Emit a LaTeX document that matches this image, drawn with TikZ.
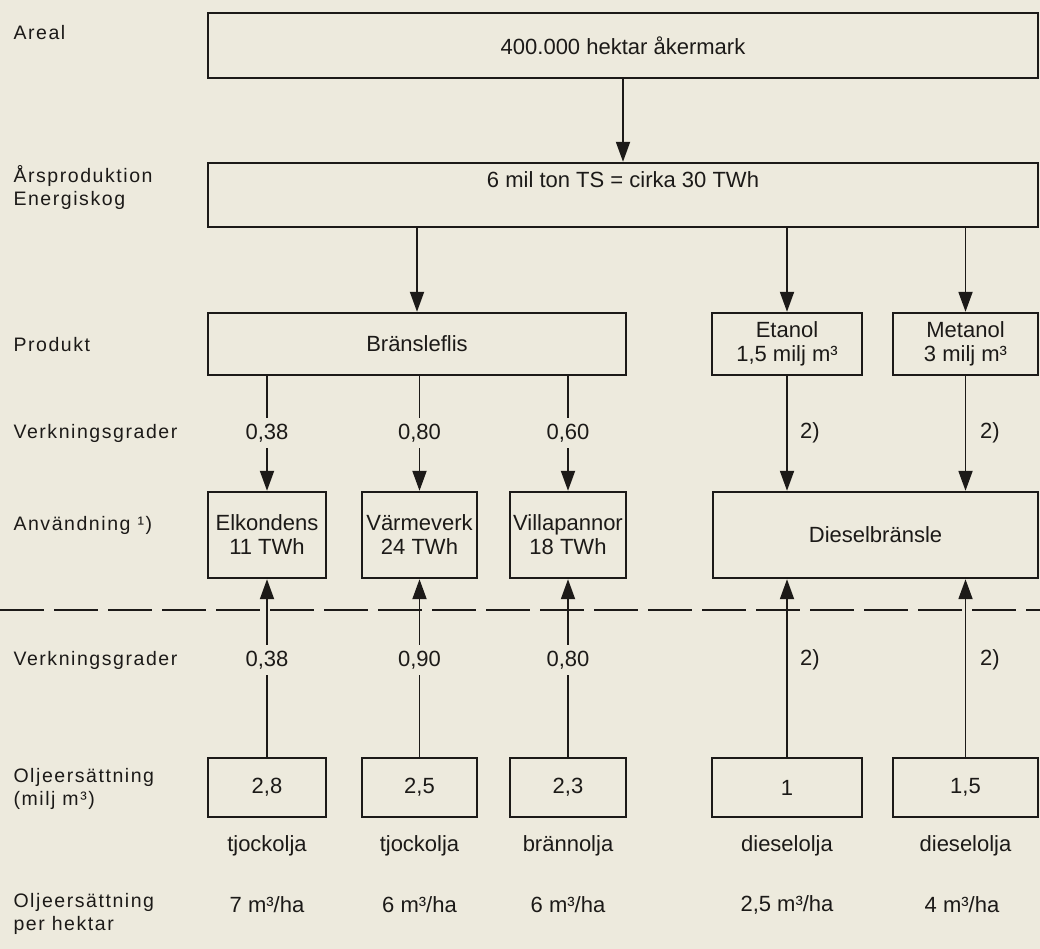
\documentclass[tikz,border=0pt]{standalone}
\usepackage{fontspec}
\setmainfont{Liberation Sans}
\newfontfamily\rowfont[LetterSpace=8]{Liberation Sans}
\usepackage{tikz}
\usetikzlibrary{positioning, arrows.meta}

\definecolor{paper}{RGB}{237,234,221}
\definecolor{ink}{RGB}{28,26,24}

\begin{document}
\begin{tikzpicture}[
  x=1pt, y=-1pt,
  font=\fontsize{22}{24}\selectfont,
  every node/.style={align=center, text=ink},
  box/.style={rectangle, draw=ink, line width=2.4pt, inner sep=1pt, minimum height=62pt},
  wide/.style={box, minimum width=830pt, minimum height=65pt},
  usebox/.style={box, minimum height=86pt},
  oilbox/.style={box, minimum height=59pt},
  rowlabel/.style={anchor=west, align=left, font=\rowfont\fontsize{19.5}{23}\selectfont},
  eff/.style={inner sep=6pt},
  note/.style={anchor=west, inner sep=0pt},
  flow/.style={draw=ink, line width=1.9pt, -{Triangle[length=20pt, width=14pt]}},
  link/.style={draw=ink, line width=1.9pt},
  divider/.style={draw=ink, line width=2pt, dash pattern=on 44pt off 10pt}
]

% --- Paper ---
\fill[paper] (0,0) rectangle (1040,949);
\useasboundingbox (0,0) rectangle (1040,949);

% --- Row labels ---
\node[rowlabel] (lareal)  at (10,33)  {Areal};
\node[rowlabel] (lyear)   at (10,188) {Årsproduktion\\Energiskog};
\node[rowlabel] (lprod)   at (10,345) {Produkt};
\node[rowlabel] (lverk)   at (10,433) {Verkningsgrader};
\node[rowlabel] (luse)    at (10,525) {Användning ¹)};
\node[rowlabel] (lverkb)  at (10,660) {Verkningsgrader};
\node[rowlabel] (loil)    at (10,789) {Oljeersättning\\(milj m³)};
\node[rowlabel] (lha)     at (10,914) {Oljeersättning\\per hektar};

% --- Area and yearly production ---
\node[wide] (areal) at (623,45.5) {400.000 hektar åkermark};
\node[wide, minimum height=64pt,
      label={[anchor=north, yshift=-6pt]north:6 mil ton TS = cirka 30 TWh}] (ts) at (623,195) {};

% --- Products ---
\node[box, minimum width=418pt] (flis)    at (417,344)   {Bränsleflis};
\node[box, minimum width=150pt] (etanol)  at (787,344)   {Etanol\\1,5 milj m³};
\node[box, minimum width=145pt] (metanol) at (965.5,344) {Metanol\\3 milj m³};

% --- Use ---
\node[usebox, minimum width=118pt] (elk)    at (267,535)   {Elkondens\\11 TWh};
\node[usebox, minimum width=115pt] (varme)  at (419.5,535) {Värmeverk\\24 TWh};
\node[usebox, minimum width=116pt] (villa)  at (568,535)   {Villapannor\\18 TWh};
\node[usebox, minimum width=325pt] (diesel) at (875.5,535) {Dieselbränsle};

% --- Oil replacement ---
\node[oilbox, minimum width=118pt] (o1) at (267,787.5)   {2,8};
\node[oilbox, minimum width=115pt] (o2) at (419.5,787.5) {2,5};
\node[oilbox, minimum width=116pt] (o3) at (568,787.5)   {2,3};
\node[oilbox, minimum width=150pt] (o4) at (787,787.5)   {1};
\node[oilbox, minimum width=145pt] (o5) at (965.5,787.5) {1,5};

\node[below=14pt of o1] (t1) {tjockolja};
\node[below=14pt of o2] (t2) {tjockolja};
\node[below=14pt of o3] (t3) {brännolja};
\node[below=14pt of o4] (t4) {dieselolja};
\node[below=14pt of o5] (t5) {dieselolja};

\node (h1) at (267,905)   {7 m³/ha};
\node (h2) at (419.5,905) {6 m³/ha};
\node (h3) at (568,905)   {6 m³/ha};
\node (h4) at (787,905)   {2,5 m³/ha};
\node (h5) at (962,905)   {4 m³/ha};

% --- Efficiencies ---
\node[eff] (e1) at (267,433)   {0,38};
\node[eff] (e2) at (419.5,433) {0,80};
\node[eff] (e3) at (568,433)   {0,60};
\node[note] (n1) at (800,433)  {2)};
\node[note] (n2) at (980,433)  {2)};

\node[eff] (g1) at (267,660)   {0,38};
\node[eff] (g2) at (419.5,660) {0,90};
\node[eff] (g3) at (568,660)   {0,80};
\node[note] (n3) at (800,660)  {2)};
\node[note] (n4) at (980,660)  {2)};

% --- Divider ---
\coordinate (dl) at (0,610);
\coordinate (dr) at (1040,610);
\draw[divider] (dl) -- (dr);

% --- Arrows ---
\draw[flow] (areal) -- (ts);
\draw[flow] (ts.south -| flis) -- (flis);
\draw[flow] (ts.south -| etanol) -- (etanol);
\draw[flow] (ts.south -| metanol) -- (metanol);

\draw[link] (flis.south -| e1) -- (e1);
\draw[flow] (e1) -- (elk);
\draw[link] (flis.south -| e2) -- (e2);
\draw[flow] (e2) -- (varme);
\draw[link] (flis.south -| e3) -- (e3);
\draw[flow] (e3) -- (villa);
\draw[flow] (etanol) -- (diesel.north -| etanol);
\draw[flow] (metanol) -- (diesel.north -| metanol);

\draw[link] (o1) -- (g1);
\draw[flow] (g1) -- (elk);
\draw[link] (o2) -- (g2);
\draw[flow] (g2) -- (varme);
\draw[link] (o3) -- (g3);
\draw[flow] (g3) -- (villa);
\draw[flow] (o4) -- (diesel.south -| o4);
\draw[flow] (o5) -- (diesel.south -| o5);

\end{tikzpicture}
\end{document}
